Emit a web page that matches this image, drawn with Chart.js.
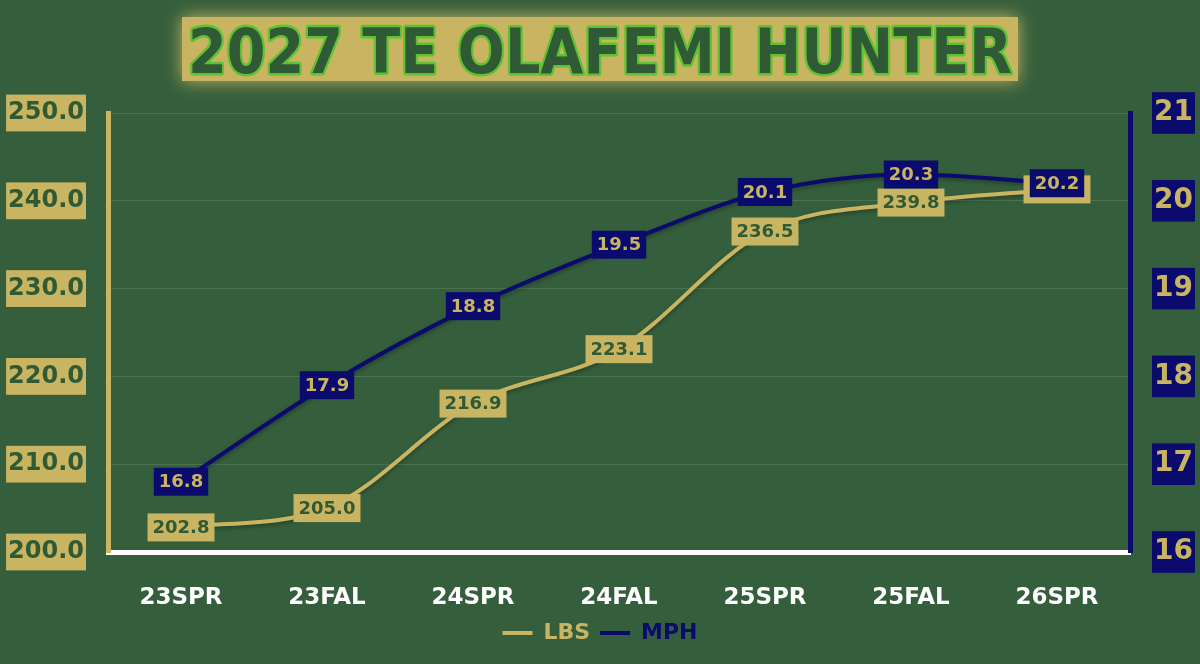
<!DOCTYPE html>
<html>
<head>
<meta charset="utf-8">
<script src="https://cdn.jsdelivr.net/npm/chart.js@4.4.1/dist/chart.umd.min.js"></script>
<style>
  html, body { margin: 0; padding: 0; background: #355f3c; }
  #wrap { width: 1200px; height: 664px; }
</style>
</head>
<body>
<div id="wrap"><canvas id="chart"></canvas></div>
<script>
// Data
const titleText = '2027 TE OLAFEMI HUNTER';
const categories = ['23SPR', '23FAL', '24SPR', '24FAL', '25SPR', '25FAL', '26SPR'];
const lbsValues = [202.8, 205.0, 216.9, 223.1, 236.5, 239.8, 241.3];
const mphValues = [16.8, 17.9, 18.8, 19.5, 20.1, 20.3, 20.2];
const lbsRange = [200, 250, 10];
const mphRange = [16, 21, 1];

const BG = '#355f3c';
const GOLD = '#c9b561';
const NAVY = '#0b0b6e';
const DARK = '#2f5a35';

// background + title box
const titlePlugin = {
    id: 'titleBox',
    beforeDraw(chart) {
        const ctx = chart.ctx;
        ctx.save();
        ctx.fillStyle = BG;
        ctx.fillRect(0, 0, chart.width, chart.height);

        // blurred gold box
        ctx.shadowColor = GOLD;
        ctx.shadowBlur = 16;
        ctx.fillStyle = GOLD;
        ctx.fillRect(182, 17, 836, 64);
        ctx.shadowBlur = 0;

        // title text, squeezed to fit the box
        ctx.font = 'bold 63px "DejaVu Sans", sans-serif';
        const w = ctx.measureText(titleText).width;
        const sx = 824 / w;
        ctx.translate(600, 73);
        ctx.scale(sx, 1);
        ctx.textAlign = 'center';
        ctx.textBaseline = 'alphabetic';
        ctx.lineJoin = 'round';
        ctx.lineWidth = 5;
        ctx.strokeStyle = '#5fc232';
        ctx.strokeText(titleText, 0, 0);
        ctx.fillStyle = DARK;
        ctx.fillText(titleText, 0, 0);
        ctx.restore();
    }
};

// soft shadow under the lines
const lineShadow = {
    id: 'lineShadow',
    beforeDatasetDraw(chart) {
        const ctx = chart.ctx;
        ctx.save();
        ctx.shadowColor = 'rgba(0,0,0,0.35)';
        ctx.shadowBlur = 4;
        ctx.shadowOffsetY = 2;
    },
    afterDatasetDraw(chart) {
        chart.ctx.restore();
    }
};

// boxed value labels
const valueLabels = {
    id: 'valueLabels',
    afterDatasetsDraw(chart) {
        const ctx = chart.ctx;
        const styles = [
            { bg: GOLD, fg: DARK },
            { bg: NAVY, fg: GOLD }
        ];
        ctx.save();
        ctx.font = 'bold 18px "DejaVu Sans", sans-serif';
        ctx.textAlign = 'center';
        ctx.textBaseline = 'middle';
        chart.data.datasets.forEach((ds, i) => {
            const meta = chart.getDatasetMeta(i);
            meta.data.forEach((pt, j) => {
                const txt = ds.data[j].toFixed(1);
                const w = ctx.measureText(txt).width + 10;
                const h = 28;
                ctx.fillStyle = styles[i].bg;
                ctx.fillRect(pt.x - w / 2, pt.y - h / 2, w, h);
                ctx.fillStyle = styles[i].fg;
                ctx.fillText(txt, pt.x, pt.y + 1);
            });
        });
        ctx.restore();
    }
};

const ctx = document.getElementById('chart').getContext('2d');
new Chart(ctx, {
    type: 'line',
    data: {
        labels: categories,
        datasets: [{
            label: 'LBS',
            data: lbsValues,
            yAxisID: 'y',
            borderColor: GOLD,
            backgroundColor: GOLD,
            borderWidth: 4,
            pointRadius: 0,
            cubicInterpolationMode: 'monotone'
        }, {
            label: 'MPH',
            data: mphValues,
            yAxisID: 'y1',
            borderColor: NAVY,
            backgroundColor: NAVY,
            borderWidth: 4,
            pointRadius: 0,
            cubicInterpolationMode: 'monotone'
        }]
    },
    plugins: [titlePlugin, lineShadow, valueLabels],
    options: {
        responsive: true,
        maintainAspectRatio: false,
        animation: false,
        layout: { padding: { top: 113, bottom: 10, left: 0, right: 0 } },
        plugins: {
            title: { display: false },
            tooltip: { enabled: false },
            legend: {
                position: 'bottom',
                labels: {
                    boxWidth: 30,
                    boxHeight: 4,
                    padding: 10,
                    font: { family: '"DejaVu Sans", sans-serif', size: 22, weight: 'bold' },
                    generateLabels(chart) {
                        return Chart.defaults.plugins.legend.labels.generateLabels(chart).map(item => {
                            item.fontColor = item.datasetIndex === 0 ? GOLD : NAVY;
                            item.lineWidth = 0;
                            return item;
                        });
                    }
                }
            }
        },
        scales: {
            x: {
                offset: true,
                grid: { display: false },
                border: { color: '#ffffff', width: 5 },
                ticks: {
                    color: '#ffffff',
                    padding: 24,
                    font: { family: '"DejaVu Sans", sans-serif', size: 23, weight: 'bold' }
                },
                afterFit(scale) { scale.height = 60; }
            },
            y: {
                position: 'left',
                min: lbsRange[0],
                max: lbsRange[1],
                grid: { color: 'rgba(255,255,255,0.12)', drawTicks: false },
                border: { color: GOLD, width: 5 },
                ticks: {
                    stepSize: lbsRange[2],
                    padding: 24,
                    color: DARK,
                    showLabelBackdrop: true,
                    backdropColor: GOLD,
                    backdropPadding: { x: 2, y: 4 },
                    font: { family: '"DejaVu Sans", sans-serif', size: 24, weight: 'bold' },
                    callback: v => v.toFixed(1)
                },
                afterFit(scale) { scale.width = 108; }
            },
            y1: {
                position: 'right',
                min: mphRange[0],
                max: mphRange[1],
                grid: { drawOnChartArea: false, drawTicks: false },
                border: { color: NAVY, width: 5 },
                ticks: {
                    stepSize: mphRange[2],
                    padding: 24,
                    color: GOLD,
                    showLabelBackdrop: true,
                    backdropColor: NAVY,
                    backdropPadding: { x: 2, y: 4 },
                    font: { family: '"DejaVu Sans", sans-serif', size: 28, weight: 'bold' }
                },
                afterFit(scale) { scale.width = 70; }
            }
        }
    }
});
</script>
</body>
</html>
